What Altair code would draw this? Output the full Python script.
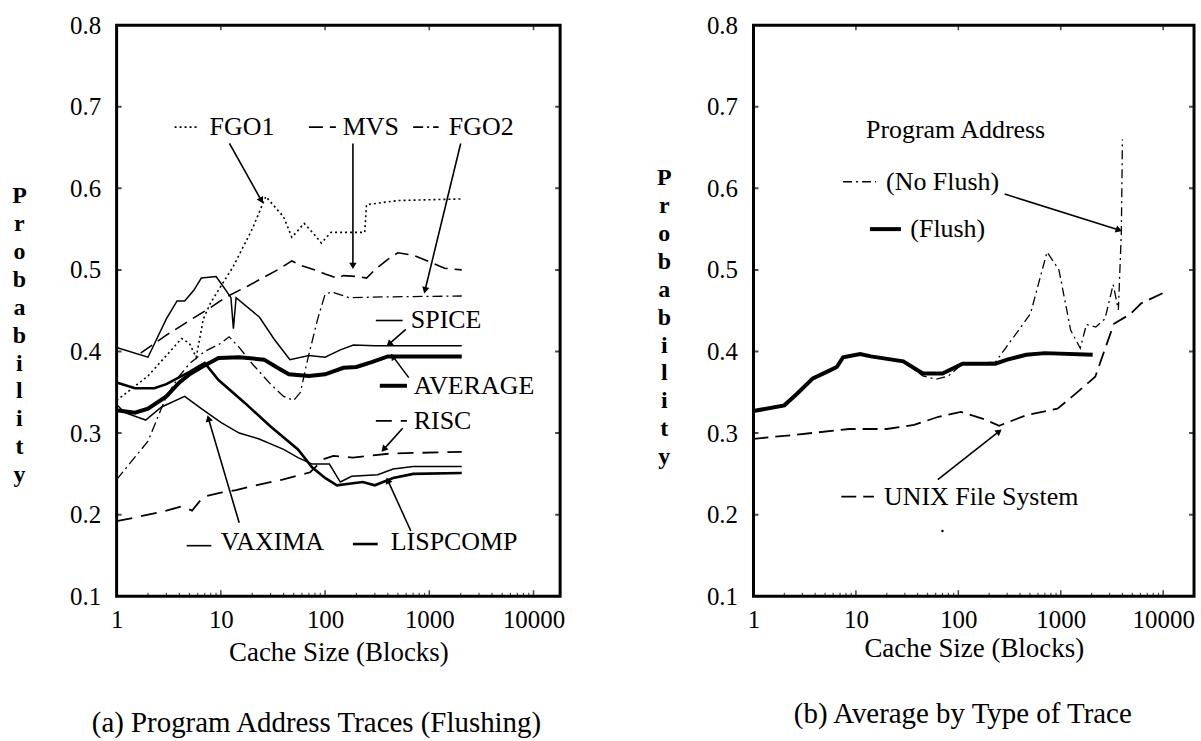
import math
import altair as alt
import pandas as pd

FONT = "Liberation Serif"

# ---------------- panel (a): Program Address Traces (Flushing) ----------------
FGO1_X = [1, 2, 3, 4.2, 5, 5.8, 6.8, 8, 10, 13, 20, 27, 40, 48, 63, 77, 92, 114, 240, 250, 500, 1000, 2048]
FGO1_Y = [0.34, 0.37, 0.395, 0.416, 0.41, 0.393, 0.44, 0.46, 0.48, 0.503, 0.55, 0.59, 0.565, 0.54, 0.557,
          0.545, 0.533, 0.546, 0.546, 0.58, 0.585, 0.586, 0.587]
MVS_X = [1.7, 3, 5, 8, 11.3, 18, 25, 35, 48, 60, 80, 100, 130, 150, 200, 250, 300, 400, 500, 700, 1000, 1400, 2048]
MVS_Y = [0.398, 0.42, 0.438, 0.454, 0.467, 0.48, 0.49, 0.50, 0.511, 0.505, 0.50, 0.495, 0.49, 0.493, 0.492,
         0.49, 0.50, 0.513, 0.521, 0.518, 0.51, 0.502, 0.50]
FGO2_X = [1, 2, 3, 4, 5, 7, 10, 12, 15, 20, 30, 40, 50, 58, 68, 85, 100, 115, 170, 400, 2048]
FGO2_Y = [0.243, 0.29, 0.345, 0.37, 0.385, 0.40, 0.41, 0.418, 0.405, 0.385, 0.36, 0.345, 0.34, 0.35, 0.39,
          0.44, 0.47, 0.473, 0.466, 0.467, 0.468]
SPICE_X = [1, 2, 3, 3.8, 4.5, 5.5, 6.5, 9, 10.5, 12.5, 13.2, 14, 23.5, 32.5, 46, 70, 100, 140, 187, 300, 2048]
SPICE_Y = [0.405, 0.393, 0.44, 0.462, 0.462, 0.475, 0.49, 0.492, 0.48, 0.466, 0.428, 0.466, 0.442, 0.415,
           0.39, 0.395, 0.393, 0.402, 0.408, 0.407, 0.407]
AVG_X = [1, 1.5, 2, 3, 4, 5, 7, 9.5, 15, 26, 35, 45, 70, 100, 150, 200, 280, 400, 2048]
AVG_Y = [0.328, 0.325, 0.33, 0.345, 0.362, 0.372, 0.383, 0.392, 0.393, 0.39, 0.38, 0.372, 0.37, 0.372, 0.38,
         0.381, 0.387, 0.394, 0.394]
RISC_X = [1, 1.7, 3, 4.2, 5.3, 6.8, 10, 14, 20, 39, 72, 96, 120, 185, 430, 2048]
RISC_Y = [0.192, 0.198, 0.205, 0.21, 0.205, 0.222, 0.227, 0.23, 0.235, 0.243, 0.252, 0.268, 0.272, 0.27,
          0.275, 0.277]
VAX_X = [1, 1.2, 1.9, 2.7, 4.5, 6.5, 10, 15, 23, 40, 55, 75, 110, 140, 180, 320, 450, 700, 2048]
VAX_Y = [0.335, 0.325, 0.316, 0.332, 0.345, 0.33, 0.313, 0.30, 0.293, 0.28, 0.27, 0.262, 0.262, 0.24, 0.247,
         0.249, 0.256, 0.259, 0.259]
LISP_X = [1, 1.5, 2.3, 3, 5, 7, 9.5, 17, 30, 55, 75, 100, 130, 170, 230, 300, 450, 700, 2048]
LISP_Y = [0.362, 0.355, 0.355, 0.36, 0.375, 0.386, 0.365, 0.337, 0.308, 0.28, 0.258, 0.245, 0.236, 0.238,
          0.24, 0.236, 0.245, 0.25, 0.251]

# ---------------- panel (b): Average by Type of Trace ----------------
FLUSH_X = [1, 2, 2.6, 3.8, 5.2, 6.5, 7.5, 11, 14, 29, 45, 70, 110, 230, 300, 460, 700, 2048]
FLUSH_Y = [0.327, 0.334, 0.347, 0.367, 0.375, 0.381, 0.393, 0.397, 0.394, 0.388, 0.373, 0.373, 0.385, 0.385,
           0.39, 0.396, 0.398, 0.396]
NOFL_X = [1, 2, 2.6, 3.8, 5.2, 6.5, 7.5, 11, 14, 29, 45, 60, 80, 110, 230, 505, 735, 960, 1250, 1550, 1780,
          2200, 2700, 3250, 3650, 3900, 4000]
NOFL_Y = [0.327, 0.334, 0.347, 0.367, 0.375, 0.381, 0.393, 0.397, 0.394, 0.388, 0.37, 0.366, 0.37, 0.385,
          0.387, 0.446, 0.522, 0.50, 0.426, 0.404, 0.433, 0.43, 0.44, 0.482, 0.451, 0.545, 0.66]
UNIX_X = [1, 2.6, 8.6, 20, 37, 64, 106, 180, 250, 460, 930, 1300, 2170, 3300, 4800, 6100, 10500]
UNIX_Y = [0.293, 0.298, 0.305, 0.305, 0.31, 0.32, 0.326, 0.317, 0.309, 0.322, 0.33, 0.345, 0.369, 0.434,
          0.446, 0.459, 0.473]

# ---------------- axes ----------------
X_TICKS = [1, 10, 100, 1000, 10000]
X_MINOR = [2, 3, 4, 5, 6, 7, 8, 9, 20, 30, 40, 50, 60, 70, 80, 90, 200, 300, 400, 500, 600, 700, 800, 900,
           2000, 3000, 4000, 5000, 6000, 7000, 8000, 9000]
Y_TICKS = [0.1, 0.2, 0.3, 0.4, 0.5, 0.6, 0.7, 0.8]
Y_INNER = [0.2, 0.3, 0.4, 0.5, 0.6, 0.7]
Y_DOM = [0.1, 0.8]

# ---------------- annotations ----------------
A_TEXT = ["FGO1", "MVS", "FGO2", "SPICE", "AVERAGE", "RISC", "VAXIMA", "LISPCOMP"]
A_TEXT_X = [7.8, 148, 1540, 665, 710, 710, 10, 427]
A_TEXT_Y = [0.675, 0.675, 0.675, 0.438, 0.358, 0.315, 0.167, 0.167]
A_SAMPLE_X1 = [3.6, 70, 700, 307, 335, 307, 4.7, 185]
A_SAMPLE_X2 = [6.2, 127, 1230, 555, 610, 610, 8.1, 320]
A_SAMPLE_Y = [0.675, 0.675, 0.675, 0.438, 0.358, 0.315, 0.162, 0.164]
A_ARROW_X1 = [12.1, 185, 2000, 595, 635, 555, 15, 665]
A_ARROW_Y1 = [0.655, 0.655, 0.655, 0.427, 0.368, 0.306, 0.19, 0.18]
A_ARROW_X2 = [24.5, 185, 910, 410, 447, 365, 7.6, 400]
A_ARROW_Y2 = [0.585, 0.505, 0.475, 0.409, 0.394, 0.28, 0.318, 0.242]

B_TEXT = ["(No Flush)", "(Flush)", "UNIX File System"]
B_TEXT_X = [19.7, 34, 18.8]
B_TEXT_Y = [0.608, 0.55, 0.222]
B_HEAD = "Program Address"
B_HEAD_X = 94
B_HEAD_Y = 0.671
B_SAMPLE_X1 = [7.5, 13.7, 7.2]
B_SAMPLE_X2 = [15.7, 27.5, 15]
B_SAMPLE_Y = [0.608, 0.55, 0.222]
B_ARROW_X1 = [283, 63]
B_ARROW_Y1 = [0.593, 0.243]
B_ARROW_X2 = [3700, 250]
B_ARROW_Y2 = [0.549, 0.302]
B_DOT_X = [70]
B_DOT_Y = [0.18]

# line styles (dash, width) per series
STY = {
    "FGO1": ([2, 3], 1.6), "MVS": ([14, 7], 1.6), "FGO2": ([10, 4, 2, 4], 1.3), "SPICE": (None, 1.5),
    "AVERAGE": (None, 4.0), "RISC": ([16, 9], 1.8), "VAXIMA": (None, 1.5), "LISPCOMP": (None, 2.6),
    "NOFLUSH": ([9, 4, 2, 4], 1.3), "FLUSH": (None, 4.0), "UNIX": ([15, 7], 1.8),
}

A_W, A_H, A_DOM = 445, 573, [1, 18000]
B_W, B_H, B_DOM = 442, 573, [1, 20000]

TICK_FS = 25
AXTITLE_FS = 27
NOTE_FS = 26
CAPTION_FS = 29
LETTER_FS = 24


def line_kw(dash, width):
    kw = dict(color="black", strokeWidth=width)
    if dash:
        kw["strokeDash"] = dash
    return kw


def build_panel(series, xdom, w, h, texts, samples, arrows, head, dots, letters_xy, caption, cap_dx, cap_off,
                xtitle_y):
    xs = alt.Scale(type="log", domain=xdom)
    ys = alt.Scale(domain=Y_DOM)
    xaxis = alt.Axis(values=X_TICKS, format="d", labelFont=FONT, labelFontSize=TICK_FS, labelColor="black",
                     tickSize=0, domain=False, grid=False, labelPadding=11, labelFlush=False,
                     labelOverlap=False, title="Cache Size (Blocks)", titleFont=FONT, titleFontSize=AXTITLE_FS,
                     titleFontWeight="normal", titleColor="black", titleY=xtitle_y, titleBaseline="middle")
    yaxis = alt.Axis(values=Y_TICKS, format=".1f", labelFont=FONT, labelFontSize=TICK_FS, labelColor="black",
                     tickSize=0, domain=False, grid=False, labelPadding=16, labelOverlap=False,
                     title=list("Probability"), titleAngle=0, titleAlign="center", titleBaseline="middle",
                     titleX=letters_xy[0], titleY=letters_xy[1], titleFont=FONT, titleFontSize=LETTER_FS,
                     titleFontWeight="bold", titleColor="black", titleLineHeight=28)

    def X(field):
        return alt.X(field, type="quantitative", scale=xs, axis=xaxis)

    def Y(field):
        return alt.Y(field, type="quantitative", scale=ys, axis=yaxis)

    layers = []
    for name, xv, yv in series:
        dash, wd = STY[name]
        df = pd.DataFrame({"x": xv, "y": yv})
        layers.append(alt.Chart(df).mark_line(**line_kw(dash, wd)).encode(x=X("x"), y=Y("y")))

    # inward ticks (half ticks clipped at the frame)
    tb = pd.DataFrame({"x": X_MINOR, "y": [Y_DOM[0]] * len(X_MINOR)})
    layers.append(alt.Chart(tb).mark_tick(color="black", orient="vertical", size=7, thickness=1.2, clip=True)
                  .encode(x=X("x"), y=Y("y")))
    tdb = pd.DataFrame({"x": X_TICKS, "y": [Y_DOM[0]] * len(X_TICKS)})
    layers.append(alt.Chart(tdb).mark_tick(color="black", orient="vertical", size=12, thickness=1.6, clip=True)
                  .encode(x=X("x"), y=Y("y")))
    tdt = pd.DataFrame({"x": X_TICKS, "y": [Y_DOM[1]] * len(X_TICKS)})
    layers.append(alt.Chart(tdt).mark_tick(color="black", orient="vertical", size=10, thickness=1.6, clip=True)
                  .encode(x=X("x"), y=Y("y")))
    tl = pd.DataFrame({"y": Y_INNER, "x": [xdom[0]] * len(Y_INNER)})
    layers.append(alt.Chart(tl).mark_tick(color="black", orient="horizontal", size=10, thickness=2, clip=True)
                  .encode(x=X("x"), y=Y("y")))
    tr = pd.DataFrame({"y": Y_INNER, "x": [xdom[1]] * len(Y_INNER)})
    layers.append(alt.Chart(tr).mark_tick(color="black", orient="horizontal", size=10, thickness=2, clip=True)
                  .encode(x=X("x"), y=Y("y")))

    # legend-like samples
    for name, x1, x2, yy in samples:
        dash, wd = STY[name]
        df = pd.DataFrame({"x": [x1], "x2": [x2], "y": [yy]})
        layers.append(alt.Chart(df).mark_rule(**line_kw(dash, max(wd, 1.6)))
                      .encode(x=X("x"), x2="x2:Q", y=Y("y")))

    # texts
    tdf = pd.DataFrame({"x": [t[1] for t in texts], "y": [t[2] for t in texts], "t": [t[0] for t in texts]})
    layers.append(alt.Chart(tdf).mark_text(align="left", baseline="middle", font=FONT, fontSize=NOTE_FS,
                                           color="black")
                  .encode(x=X("x"), y=Y("y"), text="t:N"))
    if head:
        hdf = pd.DataFrame({"x": [head[1]], "y": [head[2]], "t": [head[0]]})
        layers.append(alt.Chart(hdf).mark_text(align="center", baseline="middle", font=FONT, fontSize=NOTE_FS,
                                               color="black")
                      .encode(x=X("x"), y=Y("y"), text="t:N"))

    # arrows
    lx0, lx1 = math.log10(xdom[0]), math.log10(xdom[1])

    def px(x):
        return w * (math.log10(x) - lx0) / (lx1 - lx0)

    def py(v):
        return h * (Y_DOM[1] - v) / (Y_DOM[1] - Y_DOM[0])

    ang = []
    for x1, y1, x2, y2 in arrows:
        dx = px(x2) - px(x1)
        dy = py(y2) - py(y1)
        ang.append(math.degrees(math.atan2(dx, -dy)) % 360)
    adf = pd.DataFrame({"x": [a[0] for a in arrows], "y": [a[1] for a in arrows],
                        "x2": [a[2] for a in arrows], "y2": [a[3] for a in arrows], "ang": ang})
    layers.append(alt.Chart(adf).mark_rule(color="black", strokeWidth=1.6)
                  .encode(x=X("x"), y=Y("y"), x2="x2:Q", y2="y2:Q"))
    layers.append(alt.Chart(adf).mark_point(shape="triangle-up", filled=True, color="black", size=55,
                                            opacity=1)
                  .encode(x=X("x2"), y=Y("y2"), angle=alt.Angle("ang:Q", scale=None)))
    if dots:
        ddf = pd.DataFrame({"x": dots[0], "y": dots[1]})
        layers.append(alt.Chart(ddf).mark_point(shape="circle", filled=True, color="black", size=6, opacity=1)
                      .encode(x=X("x"), y=Y("y")))

    return alt.layer(*layers).properties(
        width=w, height=h,
        title=alt.TitleParams(caption, orient="bottom", anchor="middle", font=FONT, fontSize=CAPTION_FS,
                              fontWeight="normal", color="black", offset=cap_off, dx=cap_dx),
    )


panel_a = build_panel(
    series=[("FGO1", FGO1_X, FGO1_Y), ("MVS", MVS_X, MVS_Y), ("FGO2", FGO2_X, FGO2_Y),
            ("SPICE", SPICE_X, SPICE_Y), ("RISC", RISC_X, RISC_Y), ("VAXIMA", VAX_X, VAX_Y),
            ("LISPCOMP", LISP_X, LISP_Y), ("AVERAGE", AVG_X, AVG_Y)],
    xdom=A_DOM, w=A_W, h=A_H,
    texts=list(zip(A_TEXT, A_TEXT_X, A_TEXT_Y)),
    samples=list(zip(A_TEXT, A_SAMPLE_X1, A_SAMPLE_X2, A_SAMPLE_Y)),
    arrows=list(zip(A_ARROW_X1, A_ARROW_Y1, A_ARROW_X2, A_ARROW_Y2)),
    head=None, dots=None, letters_xy=(-98, 171),
    caption="(a) Program Address Traces (Flushing)", cap_dx=-22, cap_off=44, xtitle_y=56,
)

panel_b = build_panel(
    series=[("UNIX", UNIX_X, UNIX_Y), ("NOFLUSH", NOFL_X, NOFL_Y), ("FLUSH", FLUSH_X, FLUSH_Y)],
    xdom=B_DOM, w=B_W, h=B_H,
    texts=list(zip(B_TEXT, B_TEXT_X, B_TEXT_Y)),
    samples=list(zip(["NOFLUSH", "FLUSH", "UNIX"], B_SAMPLE_X1, B_SAMPLE_X2, B_SAMPLE_Y)),
    arrows=list(zip(B_ARROW_X1, B_ARROW_Y1, B_ARROW_X2, B_ARROW_Y2)),
    head=(B_HEAD, B_HEAD_X, B_HEAD_Y), dots=(B_DOT_X, B_DOT_Y), letters_xy=(-90, 153),
    caption="(b) Average by Type of Trace", cap_dx=-11, cap_off=39, xtitle_y=52,
)

chart = (
    alt.hconcat(panel_a, panel_b, spacing=88)
    .properties(padding={"left": 10, "top": 10, "right": 5, "bottom": 5}, background="white")
    .configure_view(stroke="black", strokeWidth=3)
)

chart.save("out.html", embed_options={"renderer": "svg", "actions": False})
